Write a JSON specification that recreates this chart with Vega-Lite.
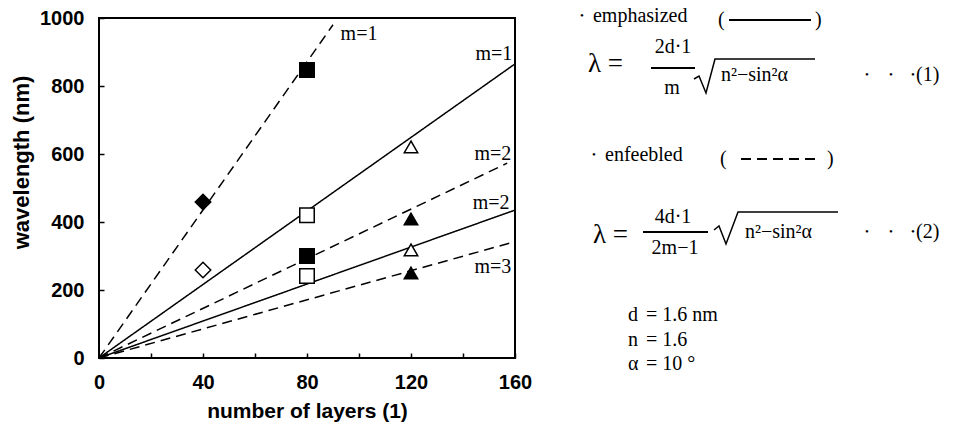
{
  "$schema": "https://vega.github.io/schema/vega-lite/v6.json",
  "background": "white",
  "padding": {"left": 9, "top": 5, "right": 0, "bottom": 0},
  "spacing": 33,
  "config": {"view": {"stroke": null}},
  "hconcat": [
    {
      "width": 416,
      "height": 340,
      "view": {"stroke": "black", "strokeWidth": 2},
      "layer": [
        {
          "data": {"values": [
            {"series": "d1", "style": "dashed", "x": 0, "y": 0},
            {"series": "d1", "style": "dashed", "x": 90, "y": 980},
            {"series": "s1", "style": "solid", "x": 0, "y": 0},
            {"series": "s1", "style": "solid", "x": 160, "y": 865},
            {"series": "d2", "style": "dashed", "x": 0, "y": 0},
            {"series": "d2", "style": "dashed", "x": 157, "y": 573},
            {"series": "s2", "style": "solid", "x": 0, "y": 0},
            {"series": "s2", "style": "solid", "x": 160, "y": 435},
            {"series": "d3", "style": "dashed", "x": 0, "y": 0},
            {"series": "d3", "style": "dashed", "x": 158, "y": 338}
          ]},
          "mark": {"type": "line", "color": "black", "strokeWidth": 1.5},
          "encoding": {
            "x": {
              "field": "x", "type": "quantitative",
              "scale": {"domain": [0, 160], "nice": false},
              "axis": {
                "values": [0, 20, 40, 60, 80, 100, 120, 140, 160],
                "labelExpr": "datum.value % 40 === 0 ? datum.label : ''",
                "format": "d",
                "tickSize": -5, "tickWidth": 1.5, "tickColor": "black",
                "domain": false, "grid": false,
                "labelFont": "Liberation Sans", "labelFontWeight": "bold", "labelFontSize": 20,
                "labelColor": "black", "labelPadding": 19, "labelFlush": false, "labelOverlap": false,
                "title": "number of layers (1)",
                "titleFont": "Liberation Sans", "titleFontWeight": "bold", "titleFontSize": 21,
                "titleColor": "black", "titlePadding": 8
              }
            },
            "y": {
              "field": "y", "type": "quantitative",
              "scale": {"domain": [0, 1000], "nice": false},
              "axis": {
                "values": [0, 100, 200, 300, 400, 500, 600, 700, 800, 900, 1000],
                "labelExpr": "datum.value % 200 === 0 ? datum.label : ''",
                "format": "d",
                "tickSize": -5, "tickWidth": 1.5, "tickColor": "black",
                "domain": false, "grid": false,
                "labelFont": "Liberation Sans", "labelFontWeight": "bold", "labelFontSize": 20,
                "labelColor": "black", "labelPadding": 20, "labelFlush": false, "labelOverlap": false,
                "title": "wavelength (nm)",
                "titleFont": "Liberation Sans", "titleFontWeight": "bold", "titleFontSize": 22,
                "titleColor": "black", "titlePadding": 6, "titleY": 144
              }
            },
            "detail": {"field": "series"},
            "strokeDash": {
              "field": "style", "type": "nominal",
              "scale": {"domain": ["solid", "dashed"], "range": [[1, 0], [10, 6]]},
              "legend": null
            }
          }
        },
        {
          "data": {"values": [
            {"x": 40, "y": 459, "shape": "diamond", "fill": "filled"},
            {"x": 40, "y": 259, "shape": "diamond", "fill": "open"},
            {"x": 80, "y": 847, "shape": "square", "fill": "filled"},
            {"x": 80, "y": 420, "shape": "square", "fill": "open"},
            {"x": 80, "y": 300, "shape": "square", "fill": "filled"},
            {"x": 80, "y": 241, "shape": "square", "fill": "open"},
            {"x": 120, "y": 621, "shape": "triangle-up", "fill": "open"},
            {"x": 120, "y": 409, "shape": "triangle-up", "fill": "filled"},
            {"x": 120, "y": 318, "shape": "triangle-up", "fill": "open"},
            {"x": 120, "y": 250, "shape": "triangle-up", "fill": "filled"}
          ]},
          "mark": {"type": "point", "filled": true, "stroke": "black", "strokeWidth": 1.5, "opacity": 1},
          "encoding": {
            "x": {"field": "x", "type": "quantitative"},
            "y": {"field": "y", "type": "quantitative"},
            "shape": {
              "field": "shape", "type": "nominal",
              "scale": {"domain": ["diamond", "square", "triangle-up"], "range": ["diamond", "square", "triangle-up"]},
              "legend": null
            },
            "size": {
              "field": "shape", "type": "ordinal",
              "scale": {"domain": ["diamond", "square", "triangle-up"], "range": [240, 180, 200]},
              "legend": null
            },
            "fill": {
              "field": "fill", "type": "nominal",
              "scale": {"domain": ["filled", "open"], "range": ["black", "white"]},
              "legend": null
            }
          }
        },
        {
          "data": {"values": [
            {"x": 100, "y": 953, "label": "m=1"},
            {"x": 151.9, "y": 894, "label": "m=1"},
            {"x": 151.5, "y": 600, "label": "m=2"},
            {"x": 150.8, "y": 456, "label": "m=2"},
            {"x": 151.5, "y": 268, "label": "m=3"}
          ]},
          "mark": {"type": "text", "font": "Liberation Serif", "fontSize": 20, "align": "center", "baseline": "middle", "color": "black"},
          "encoding": {
            "x": {"field": "x", "type": "quantitative"},
            "y": {"field": "y", "type": "quantitative"},
            "text": {"field": "label"}
          }
        }
      ]
    },
    {
      "width": 385,
      "height": 360,
      "encoding": {
        "x": {"field": "u", "type": "quantitative", "scale": {"domain": [0, 100], "nice": false, "zero": false}, "axis": null},
        "y": {"field": "v", "type": "quantitative", "scale": {"domain": [0, 100], "nice": false, "zero": false, "reverse": true}, "axis": null}
      },
      "layer": [
        {
          "data": {"values": [
            {"u": 22.08, "u2": 33.51, "v": 13.89, "style": "solid"},
            {"u": 20.0, "u2": 36.88, "v": 59.44, "style": "solid"},
            {"u": 42.34, "u2": 63.64, "v": 0.56, "style": "solid"},
            {"u": 45.45, "u2": 65.97, "v": 39.17, "style": "dashed"}
          ]},
          "mark": {"type": "rule", "color": "black", "strokeWidth": 2},
          "encoding": {
            "x2": {"field": "u2"},
            "strokeDash": {
              "field": "style", "type": "nominal",
              "scale": {"domain": ["solid", "dashed"], "range": [[1, 0], [13, 8]]},
              "legend": null
            }
          }
        },
        {
          "data": {"values": [
            {"r": "r1", "i": 1, "u": 33.25, "v": 16.94},
            {"r": "r1", "i": 2, "u": 34.55, "v": 16.11},
            {"r": "r1", "i": 3, "u": 36.36, "v": 20.83},
            {"r": "r1", "i": 4, "u": 38.70, "v": 11.39},
            {"r": "r1", "i": 5, "u": 64.68, "v": 11.39},
            {"r": "r2", "i": 1, "u": 38.44, "v": 58.89},
            {"r": "r2", "i": 2, "u": 39.74, "v": 57.78},
            {"r": "r2", "i": 3, "u": 41.56, "v": 62.78},
            {"r": "r2", "i": 4, "u": 44.68, "v": 53.89},
            {"r": "r2", "i": 5, "u": 70.65, "v": 53.89}
          ]},
          "mark": {"type": "line", "color": "black", "strokeWidth": 1.5},
          "encoding": {
            "detail": {"field": "r"},
            "order": {"field": "i", "type": "quantitative"}
          }
        },
        {
          "data": {"values": [
            {"u": 7.01, "v": -0.56, "t": "emphasized"},
            {"u": 39.48, "v": 0.56, "t": "("},
            {"u": 64.68, "v": 0.56, "t": ")"},
            {"u": 40.26, "v": 15.83, "t": "n²−sin²α"},
            {"u": 90.91, "v": 15.83, "t": "(1)"},
            {"u": 10.13, "v": 38.06, "t": "enfeebled"},
            {"u": 40.0, "v": 39.17, "t": "("},
            {"u": 67.79, "v": 39.17, "t": ")"},
            {"u": 46.49, "v": 59.44, "t": "n²−sin²α"},
            {"u": 90.91, "v": 59.44, "t": "(2)"},
            {"u": 16.1, "v": 82.5, "t": "d"},
            {"u": 20.78, "v": 82.5, "t": "= 1.6 nm"},
            {"u": 16.1, "v": 89.44, "t": "n"},
            {"u": 20.78, "v": 89.44, "t": "= 1.6"},
            {"u": 16.1, "v": 96.11, "t": "α"},
            {"u": 20.78, "v": 96.11, "t": "= 10 °"}
          ]},
          "mark": {"type": "text", "font": "Liberation Serif", "fontSize": 20, "align": "left", "baseline": "middle", "color": "black"},
          "encoding": {"text": {"field": "t"}}
        },
        {
          "data": {"values": [
            {"u": 27.79, "v": 8.06, "t": "2d·1"},
            {"u": 27.53, "v": 19.44, "t": "m"},
            {"u": 27.79, "v": 55.28, "t": "4d·1"},
            {"u": 28.31, "v": 63.89, "t": "2m−1"}
          ]},
          "mark": {"type": "text", "font": "Liberation Serif", "fontSize": 20, "align": "center", "baseline": "middle", "color": "black"},
          "encoding": {"text": {"field": "t"}}
        },
        {
          "data": {"values": [
            {"u": 5.71, "v": 12.78, "t": "λ ="},
            {"u": 7.01, "v": 60.28, "t": "λ ="}
          ]},
          "mark": {"type": "text", "font": "Liberation Serif", "fontSize": 27, "align": "left", "baseline": "middle", "color": "black"},
          "encoding": {"text": {"field": "t"}}
        },
        {
          "data": {"values": [
            {"u": 4.16, "v": -0.56, "t": "•"},
            {"u": 7.27, "v": 38.06, "t": "•"},
            {"u": 78.18, "v": 15.83, "t": "•"},
            {"u": 84.42, "v": 15.83, "t": "•"},
            {"u": 90.13, "v": 15.83, "t": "•"},
            {"u": 78.18, "v": 59.44, "t": "•"},
            {"u": 84.42, "v": 59.44, "t": "•"},
            {"u": 90.13, "v": 59.44, "t": "•"}
          ]},
          "mark": {"type": "text", "font": "Liberation Serif", "fontSize": 11, "align": "center", "baseline": "middle", "color": "black"},
          "encoding": {"text": {"field": "t"}}
        }
      ]
    }
  ]
}
